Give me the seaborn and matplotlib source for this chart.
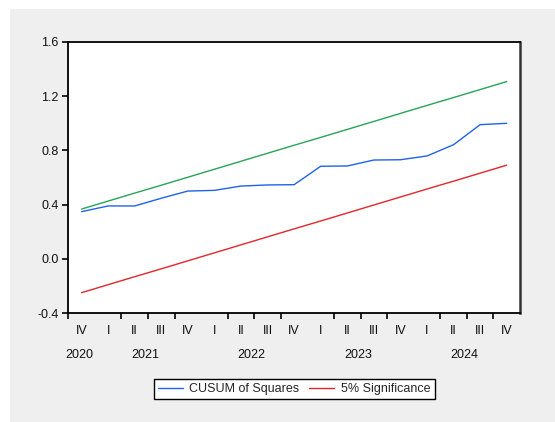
import matplotlib
matplotlib.use("Agg")
import matplotlib.pyplot as plt
import matplotlib.transforms as mtransforms
from matplotlib.patches import Rectangle
import numpy as np
import pandas as pd
import seaborn as sns

# Quarterly observations, 2020Q4 - 2024Q4
quarters = ["IV", "I", "II", "III", "IV", "I", "II", "III", "IV",
            "I", "II", "III", "IV", "I", "II", "III", "IV"]
years = ["2020", "2021", "2022", "2023", "2024"]
year_centers = [0.0, 2.5, 6.5, 10.5, 14.5]

cusum_sq = [0.348, 0.390, 0.390, 0.447, 0.500, 0.505, 0.537, 0.545, 0.547,
            0.683, 0.685, 0.729, 0.731, 0.759, 0.842, 0.990, 1.000]
upper_5 = [0.367, 0.426, 0.485, 0.543, 0.602, 0.661, 0.720, 0.779, 0.838,
           0.896, 0.955, 1.014, 1.073, 1.132, 1.190, 1.249, 1.308]
lower_5 = [-0.250, -0.191, -0.132, -0.074, -0.015, 0.044, 0.103, 0.162, 0.221,
           0.279, 0.338, 0.397, 0.456, 0.515, 0.573, 0.632, 0.691]

y_ticks = [-0.4, 0.0, 0.4, 0.8, 1.2, 1.6]

sns.set_style("white")
plt.rcParams["font.family"] = ["Liberation Sans", "DejaVu Sans"]
plt.rcParams["font.size"] = 9

df = pd.DataFrame({
    "t": np.arange(len(quarters)),
    "cusum": cusum_sq,
    "upper": upper_5,
    "lower": lower_5,
})

fig = plt.figure(figsize=(5.55, 4.22), dpi=100, facecolor="white")
# gray panel behind the graph
fig.patches.append(Rectangle((10 / 555, 0), 1, 1 - 9 / 422, transform=fig.transFigure,
                             facecolor="#efefef", edgecolor="none", zorder=-10))
ax = fig.add_axes([68.3 / 555, 1 - 313 / 422, (520 - 68.3) / 555, (313 - 42) / 422])
ax.set_facecolor("white")

blue = "#1f63e8"
red = "#e3262a"
green = "#26a557"

sns.lineplot(data=df, x="t", y="cusum", ax=ax, color=blue, lw=1.0, label="CUSUM of Squares")
sns.lineplot(data=df, x="t", y="lower", ax=ax, color=red, lw=1.0, label="5% Significance")
sns.lineplot(data=df, x="t", y="upper", ax=ax, color=green, lw=1.0, label="_nolegend_")

n = len(quarters)
ax.set_xlim(-0.5, n - 0.5)
ax.set_ylim(-0.4, 1.6)
ax.set_yticks(y_ticks)
ax.set_yticklabels([f"{v:.1f}" for v in y_ticks])
ax.set_xlabel("")
ax.set_ylabel("")

# boundaries between quarters; longer ticks at year boundaries
bounds = np.arange(-0.5, n, 1.0)
year_bounds = [b for i, b in enumerate(bounds) if i > 0 and (i - 1) % 4 == 0]
ax.set_xticks(year_bounds)
ax.set_xticks([b for b in bounds if b not in year_bounds], minor=True)
ax.set_xticklabels([])
ax.tick_params(axis="x", which="major", direction="out", length=7, width=1.2, color="black")
ax.tick_params(axis="x", which="minor", direction="out", length=4, width=1.2, color="black", bottom=True)
ax.tick_params(axis="y", direction="out", length=4, width=1.2, color="black", left=True,
               labelsize=9, pad=3, labelcolor="#111111")

for side in ["left", "bottom", "top"]:
    ax.spines[side].set_color("black")
    ax.spines[side].set_linewidth(1.3)
ax.spines["right"].set_color("#333333")
ax.spines["right"].set_linewidth(1.8)

trans = mtransforms.blended_transform_factory(ax.transData, ax.transAxes)
for i, q in enumerate(quarters):
    ax.text(i, -18 / 271, q, transform=trans, ha="center", va="center", fontsize=9, color="#111111")
for x, y in zip(year_centers, years):
    ax.text(x - 0.1, -42 / 271, y, transform=trans, ha="center", va="center", fontsize=9, color="#111111")

leg = ax.legend(loc="center", bbox_to_anchor=(0.5, -76 / 271), ncol=2, frameon=True,
                fancybox=False, handlelength=2.0, columnspacing=0.8, handletextpad=0.5,
                borderpad=0.35, borderaxespad=0.0, fontsize=9)
leg.get_frame().set_edgecolor("black")
leg.get_frame().set_linewidth(1.0)
leg.get_frame().set_facecolor("white")
leg.get_frame().set_alpha(1.0)

fig.savefig("out.png", dpi=100, facecolor=fig.get_facecolor())
